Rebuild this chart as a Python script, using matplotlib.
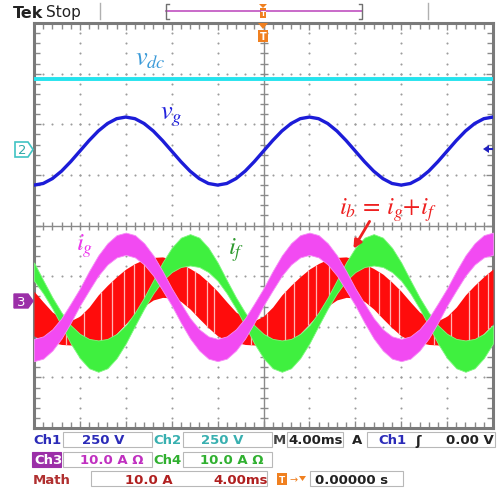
import numpy as np
import matplotlib
matplotlib.use("Agg")
import matplotlib.pyplot as plt
from matplotlib.patches import Rectangle, Polygon

plt.rcParams['mathtext.fontset'] = 'stix'
plt.rcParams['font.family'] = ['DejaVu Sans']

time_ms = [0.0, 0.8, 1.6, 2.4, 3.2, 4.0, 4.8, 5.6, 6.4, 7.2, 8.0, 8.8, 9.6, 10.4, 11.2, 12.0, 12.8,
           13.6, 14.4, 15.2, 16.0, 16.8, 17.6, 18.4, 19.2, 20.0, 20.8, 21.6, 22.4, 23.2, 24.0, 24.8,
           25.6, 26.4, 27.2, 28.0, 28.8, 29.6, 30.4, 31.2, 32.0, 32.8, 33.6, 34.4, 35.2, 36.0, 36.8,
           37.6, 38.4, 39.2, 40.0]

vdc_volts = 348.0

vg_volts = [-168, -160, -136, -99, -52, 0, 52, 99, 136, 160, 168, 160, 136, 99, 52, 0, -52, -99, -136, -160,
            -168, -160, -136, -99, -52, 0, 52, 99, 136, 160, 168, 160, 136, 99, 52, 0, -52, -99, -136, -160,
            -168, -160, -136, -99, -52, 0, 52, 99, 136, 160, 168]

ig_amps = [-10.5, -10.0, -8.5, -6.2, -3.2, 0.0, 3.2, 6.2, 8.5, 10.0, 10.5, 10.0, 8.5, 6.2, 3.2, 0.0, -3.2, -6.2, -8.5, -10.0,
           -10.5, -10.0, -8.5, -6.2, -3.2, 0.0, 3.2, 6.2, 8.5, 10.0, 10.5, 10.0, 8.5, 6.2, 3.2, 0.0, -3.2, -6.2, -8.5, -10.0,
           -10.5, -10.0, -8.5, -6.2, -3.2, 0.0, 3.2, 6.2, 8.5, 10.0, 10.5]
ig_ripple = [2.2, 2.2, 2.1, 2.0, 1.9, 1.7, 1.9, 2.0, 2.1, 2.2, 2.2, 2.2, 2.1, 2.0, 1.9, 1.7, 1.9, 2.0, 2.1, 2.2,
             2.2, 2.2, 2.1, 2.0, 1.9, 1.7, 1.9, 2.0, 2.1, 2.2, 2.2, 2.2, 2.1, 2.0, 1.9, 1.7, 1.9, 2.0, 2.1, 2.2,
             2.2, 2.2, 2.1, 2.0, 1.9, 1.7, 1.9, 2.0, 2.1, 2.2, 2.2]

if_amps = [6.2, 3.2, 0.0, -3.2, -6.2, -8.5, -10.0, -10.5, -10.0, -8.5, -6.2, -3.2, 0.0, 3.2, 6.2, 8.5, 10.0, 10.5, 10.0, 8.5,
           6.2, 3.2, 0.0, -3.2, -6.2, -8.5, -10.0, -10.5, -10.0, -8.5, -6.2, -3.2, 0.0, 3.2, 6.2, 8.5, 10.0, 10.5, 10.0, 8.5,
           6.2, 3.2, 0.0, -3.2, -6.2, -8.5, -10.0, -10.5, -10.0, -8.5, -6.2]
if_ripple = [1.8, 1.3, 1.1, 1.3, 1.8, 2.4, 2.9, 3.1, 2.9, 2.4, 1.8, 1.3, 1.1, 1.3, 1.8, 2.4, 2.9, 3.1, 2.9, 2.4,
             1.8, 1.3, 1.1, 1.3, 1.8, 2.4, 2.9, 3.1, 2.9, 2.4, 1.8, 1.3, 1.1, 1.3, 1.8, 2.4, 2.9, 3.1, 2.9, 2.4,
             1.8, 1.3, 1.1, 1.3, 1.8, 2.4, 2.9, 3.1, 2.9, 2.4, 1.8]

ib_amps = [-1.7, -3.2, -4.4, -5.2, -5.5, -5.2, -4.4, -3.2, -1.7, 0.0, 1.7, 3.2, 4.4, 5.2, 5.5, 5.2, 4.4, 3.2, 1.7, 0.0,
           -1.7, -3.2, -4.4, -5.2, -5.5, -5.2, -4.4, -3.2, -1.7, 0.0, 1.7, 3.2, 4.4, 5.2, 5.5, 5.2, 4.4, 3.2, 1.7, 0.0,
           -1.7, -3.2, -4.4, -5.2, -5.5, -5.2, -4.4, -3.2, -1.7, 0.0, 1.7]
ib_ripple = [4.4, 3.8, 3.0, 2.6, 2.4, 3.0, 4.0, 5.2, 5.6, 5.6, 5.4, 5.0, 4.6, 4.2, 4.0, 3.8, 3.7, 4.0, 4.4, 4.5,
             4.4, 3.8, 3.0, 2.6, 2.4, 3.0, 4.0, 5.2, 5.6, 5.6, 5.4, 5.0, 4.6, 4.2, 4.0, 3.8, 3.7, 4.0, 4.4, 4.5,
             4.4, 3.8, 3.0, 2.6, 2.4, 3.0, 4.0, 5.2, 5.6, 5.6, 5.4]
ib_gap_ms = [2.8, 4.4, 5.8, 6.8, 7.8, 8.7, 9.6, 13.3, 14.0, 15.1, 15.7,
             18.9, 20.3, 21.9, 22.7, 23.9, 24.6, 25.7, 29.2, 30.1, 31.0, 31.8,
             34.9, 36.3, 37.9, 38.7, 39.6]

# ---------------- scope settings ----------------
ch12_v_per_div = 250.0
ch34_a_per_div = 10.0
math_a_per_div = 10.0
pos_ch1, pos_ch2, pos_ch3, pos_ch4, pos_math = 1.47, 1.51, -1.41, -1.53, -1.57

t = np.array(time_ms)
W, H = 503, 489
fig = plt.figure(figsize=(W / 100, H / 100), dpi=100)
fig.patch.set_facecolor('white')
L, R, T, B = 34, 493, 24, 429
ax = fig.add_axes([L / W, 1 - B / H, (R - L) / W, (B - T) / H])
ax.set_xlim(0, 40)
ax.set_ylim(-4, 4)
ax.set_facecolor('white')

grid_c = '#9c9c9c'
# dotted graticule
for xd in [4, 8, 12, 16, 24, 28, 32, 36]:
    ys = np.arange(-4, 4.01, 0.2)
    ax.plot(np.full_like(ys, xd), ys, ls='none', marker='o', ms=1.5, mew=0, color=grid_c, zorder=1)
for yd in [-3, -2, -1, 1, 2, 3]:
    xs = np.arange(0, 40.01, 0.8)
    ax.plot(xs, np.full_like(xs, yd), ls='none', marker='o', ms=1.5, mew=0, color=grid_c, zorder=1)
# centre cross
ax.axhline(0, color='#8a8a8a', lw=1.0, zorder=1)
ax.axvline(20, color='#8a8a8a', lw=1.0, zorder=1)
xs = np.arange(0, 40.01, 0.8)
ax.plot(xs, np.zeros_like(xs), ls='none', marker='|', ms=6, mew=1.0, color='#8a8a8a', zorder=1)
ys = np.arange(-4, 4.01, 0.2)
ax.plot(np.full_like(ys, 20), ys, ls='none', marker='_', ms=6, mew=1.0, color='#8a8a8a', zorder=1)

# frame ticks
ax.set_xticks(np.arange(0, 40.01, 4))
ax.set_xticks(np.arange(0, 40.01, 0.8), minor=True)
ax.set_yticks(np.arange(-4, 4.01, 1))
ax.set_yticks(np.arange(-4, 4.01, 0.2), minor=True)
ax.tick_params(which='both', direction='in', top=True, right=True, labelbottom=False, labelleft=False,
               color='#8a8a8a', width=1.0)
ax.tick_params(which='major', length=5)
ax.tick_params(which='minor', length=4)
for s in ax.spines.values():
    s.set_color('#7a7a7a')
    s.set_linewidth(2.2)

# ---------------- traces ----------------
ax.plot(t, np.full_like(t, pos_ch2 + vdc_volts / ch12_v_per_div), color='#25e3ee', lw=2.8, zorder=3)
ax.plot(t, pos_ch1 + np.array(vg_volts) / ch12_v_per_div, color='#1c1cd8', lw=2.4, zorder=3)

ib = np.array(ib_amps); ibr = np.array(ib_ripple)
ib_lo = pos_math + (ib - ibr) / math_a_per_div
ib_hi = pos_math + (ib + ibr) / math_a_per_div
ax.fill_between(t, ib_lo, ib_hi, color='#ff0c0c', lw=0, zorder=3)
g = np.array(ib_gap_ms)
ax.vlines(g, np.interp(g, t, ib_lo), np.interp(g, t, ib_hi), color='#ffb4b4', lw=0.9, zorder=3)

fi = np.array(if_amps); fir = np.array(if_ripple)
ax.fill_between(t, pos_ch4 + (fi - fir) / ch34_a_per_div, pos_ch4 + (fi + fir) / ch34_a_per_div,
                color='#3ff03f', lw=0.6, edgecolor='#7ef77e', zorder=4)
gi = np.array(ig_amps); gir = np.array(ig_ripple)
ax.fill_between(t, pos_ch3 + (gi - gir) / ch34_a_per_div, pos_ch3 + (gi + gir) / ch34_a_per_div,
                color='#f24af2', lw=0.6, edgecolor='#f68ef6', zorder=5)

# ---------------- overlay (screen furniture) ----------------
ov = fig.add_axes([0, 0, 1, 1], zorder=10)
ov.set_xlim(0, W)
ov.set_ylim(H, 0)
ov.axis('off')
ov.patch.set_alpha(0)

# trace labels
ov.text(150, 58, r'$v_{dc}$', color='#3a9ad8', fontsize=19, ha='center', va='center')
ov.text(171, 116, r'$v_g$', color='#2222dd', fontsize=19, ha='center', va='center')
ov.text(85, 246, r'$i_g$', color='#ee38ee', fontsize=18, ha='center', va='center')
ov.text(236, 250, r'$i_f$', color='#2f9a2f', fontsize=18, ha='center', va='center')
ov.text(388, 210, r'$i_b\,=\,i_g{+}i_f$', color='#ee2020', fontsize=18, ha='center', va='center')
ov.annotate('', xy=(352, 252), xytext=(371, 220),
            arrowprops=dict(arrowstyle='-|>', color='#ee2020', lw=2.0, mutation_scale=12))

# top bar
ov.text(13, 13, 'Tek', fontsize=11.5, fontweight='bold', color='#222222', va='center', ha='left')
ov.text(46, 13, 'Stop', fontsize=11, color='#222222', va='center', ha='left')
ov.plot([100, 100], [4, 20], color='#b0b0b0', lw=1)
ov.plot([428, 428], [4, 20], color='#b0b0b0', lw=1)
ov.plot([166, 362], [12, 12], color='#c050c0', lw=1.2)
for xb, d in [(166, 3), (362, -3)]:
    ov.plot([xb + d, xb, xb, xb + d], [5, 5, 20, 20], color='#707070', lw=1)
ov.add_patch(Polygon([[259, 5], [267, 5], [263, 9]], closed=True, color='#f08020', lw=0))
ov.add_patch(Rectangle((260, 9), 6, 10, color='#f08020', lw=0))
ov.text(263, 14.5, 'T', fontsize=5, color='white', ha='center', va='center', fontweight='bold')
ov.add_patch(Polygon([[258, 24], [268, 24], [263, 30]], closed=True, color='#f08020', lw=0))
ov.add_patch(Rectangle((258, 31), 10, 12, color='#f08020', lw=0))
ov.text(263, 37.5, 'T', fontsize=7, color='white', ha='center', va='center', fontweight='bold')

# channel markers
ov.add_patch(Polygon([[15, 143], [28, 143], [33, 150.5], [28, 158], [15, 158]], closed=True,
                     facecolor='white', edgecolor='#40c4c4', lw=1.2))
ov.text(22, 151, '2', color='#30a8a8', fontsize=9.5, ha='center', va='center')
ov.add_patch(Polygon([[14, 295], [28, 295], [33, 302], [28, 309], [14, 309]], closed=True,
                     facecolor='#9b2fa8', edgecolor='#9b2fa8', lw=1))
ov.text(21, 302.5, '3', color='white', fontsize=9.5, ha='center', va='center')
ov.add_patch(Polygon([[483, 150], [489, 146], [489, 154]], closed=True, color='#2020c0', lw=0))
ov.plot([487, 492], [150, 150], color='#2020c0', lw=1.5)

# readout boxes
def box(x0, y0, x1, y1, fc='white', ec='#b8b8b8'):
    ov.add_patch(Rectangle((x0, y0), x1 - x0, y1 - y0, facecolor=fc, edgecolor=ec, lw=0.8))

box(63, 433, 152, 448); box(183, 433, 272, 448); box(287, 433, 343, 448); box(367, 433, 495, 448)
box(63, 453, 152, 468); box(183, 453, 272, 468); box(32, 453, 61, 468, fc='#9b2fa8', ec='#9b2fa8')
box(91, 472, 267, 487); box(310, 472, 403, 487)

fs = 9.5
def txt(x, y, s, c, ha='left', **kw):
    ov.text(x, y, s, color=c, fontsize=fs, fontweight='bold', ha=ha, va='center', **kw)

y1, y2, y3 = 441, 461, 480
txt(33, y1, 'Ch1', '#2b2bb8'); txt(82, y1, '250 V', '#2b2bb8')
txt(153, y1, 'Ch2', '#38b0b0'); txt(201, y1, '250 V', '#38b0b0')
txt(273, y1, 'M', '#444444'); txt(288, y1, '4.00ms', '#222222')
txt(352, y1, 'A', '#222222'); txt(378, y1, 'Ch1', '#2b2bb8')
txt(415, y1, 'ʃ', '#222222'); txt(494, y1, '0.00 V', '#222222', ha='right')
txt(34, y2, 'Ch3', 'white'); txt(80, y2, '10.0 A Ω', '#c030c0')
txt(153, y2, 'Ch4', '#30b030'); txt(200, y2, '10.0 A Ω', '#30b030')
txt(33, y3, 'Math', '#b03030'); txt(125, y3, '10.0 A', '#b02020'); txt(213, y3, '4.00ms', '#b02020')
ov.add_patch(Rectangle((277, 474), 10, 12, color='#f08020', lw=0))
ov.text(282, 480.5, 'T', fontsize=6.5, color='white', ha='center', va='center', fontweight='bold')
ov.text(294, 480, '→', fontsize=7, color='#f08020', ha='center', va='center')
ov.add_patch(Polygon([[299, 477], [306, 477], [302.5, 482]], closed=True, color='#f08020', lw=0))
txt(315, y3, '0.00000 s', '#222222')

fig.savefig('out.png', dpi=100, facecolor='white')
